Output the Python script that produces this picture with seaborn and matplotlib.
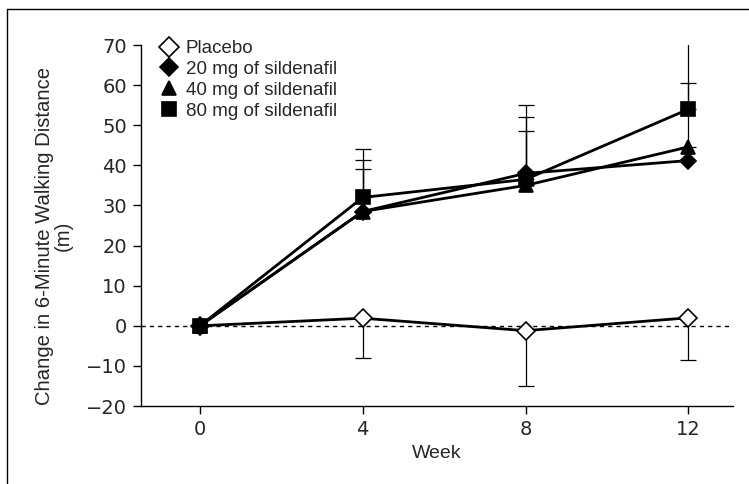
import matplotlib
matplotlib.use("Agg")
import matplotlib.pyplot as plt
import seaborn as sns
import numpy as np
from matplotlib.lines import Line2D

sns.set_style("ticks")
plt.rcParams['font.family'] = ['Liberation Sans', 'DejaVu Sans']

weeks = [0, 4, 8, 12]
groups = ["Placebo", "20 mg of sildenafil", "40 mg of sildenafil", "80 mg of sildenafil"]
placebo = [0, 1.9, -1.2, 2.0]
mg20 = [0, 28.5, 38.0, 41.2]
mg40 = [0, 28.5, 35.0, 44.6]
mg80 = [0, 32.0, 36.5, 54.0]
# error bar ends (placebo: lower ends; sildenafil: upper ends)
placebo_low = [0, -8.0, -14.9, -8.5]
mg20_high = [0, 39.1, 48.5, 41.2]
mg40_high = [0, 41.4, 52.0, 60.5]
mg80_high = [0, 44.1, 55.0, 70.7]
ytick_vals = [-20, -10, 0, 10, 20, 30, 40, 50, 60, 70]
ytick_labels = ["\u221220", "\u221210", "0", "10", "20", "30", "40", "50", "60", "70"]

series = [placebo, mg20, mg40, mg80]
markers = ["D", "D", "^", "s"]
msizes = [8.8, 8.0, 10.5, 10]
faces = ["white", "black", "black", "black"]

fig = plt.figure(figsize=(7.49, 4.84), dpi=100)
ax = fig.add_axes([0.188, 0.161, 0.791, 0.746])

ax.axhline(0, color="black", lw=1.0, ls=(0, (3, 3)), zorder=1)

# error bars
err_sets = [(placebo, placebo_low, "low"), (mg20, mg20_high, "high"),
            (mg40, mg40_high, "high"), (mg80, mg80_high, "high")]
for vals, ends, kind in err_sets:
    for w, v, e in zip(weeks, vals, ends):
        if w == 0 or e == v:
            continue
        if kind == "low":
            yerr = [[v - e], [0]]
        else:
            yerr = [[0], [e - v]]
        ax.errorbar([w], [v], yerr=yerr, fmt="none", ecolor="black",
                    elinewidth=0.9, capsize=5.5, capthick=0.9, zorder=2)

for name, vals, m, ms, fc in zip(groups, series, markers, msizes, faces):
    sns.lineplot(x=weeks, y=vals, ax=ax, color="black", lw=2.0, marker=m,
                 markersize=ms, markerfacecolor=fc, markeredgecolor="black",
                 markeredgewidth=1.2, label=name, zorder=3)

ax.set_xlim(-1.45, 13.1)
ax.set_ylim(-20, 70)
ax.set_xticks(weeks)
ax.set_xticklabels([str(w) for w in weeks], family="DejaVu Sans")
ax.set_yticks(ytick_vals)
ax.set_yticklabels(ytick_labels, family="DejaVu Sans")
ax.tick_params(labelsize=14, length=6, width=1, color="black", pad=4)
for s in ["top", "right"]:
    ax.spines[s].set_visible(False)
for s in ["left", "bottom"]:
    ax.spines[s].set_linewidth(1.0)
    ax.spines[s].set_color("black")
ax.set_xlabel("Week", fontsize=14, labelpad=4)
ax.set_ylabel("Change in 6-Minute Walking Distance\n(m)", fontsize=14.6, linespacing=0.95)
ax.yaxis.set_label_coords(-0.115, 0.472)

handles = [Line2D([], [], ls="none", marker=m, markersize=s, markerfacecolor=fc,
                  markeredgecolor="black", markeredgewidth=1.2)
           for m, s, fc in zip(["D", "D", "^", "s"], [10, 9.5, 10.5, 9.5], faces)]
ax.legend(handles, groups, loc="upper left", bbox_to_anchor=(0.016, 1.045), frameon=False,
          fontsize=13.5, handlelength=0.8, handletextpad=0.5, labelspacing=0.2,
          borderaxespad=0.2)

fig.add_artist(Line2D([7/749, 7/749], [0, 1 - 9/484], color="black", lw=1.0))
fig.add_artist(Line2D([7/749, 1], [1 - 9/484, 1 - 9/484], color="black", lw=1.0))

fig.savefig("out.png", dpi=100, facecolor="white")
